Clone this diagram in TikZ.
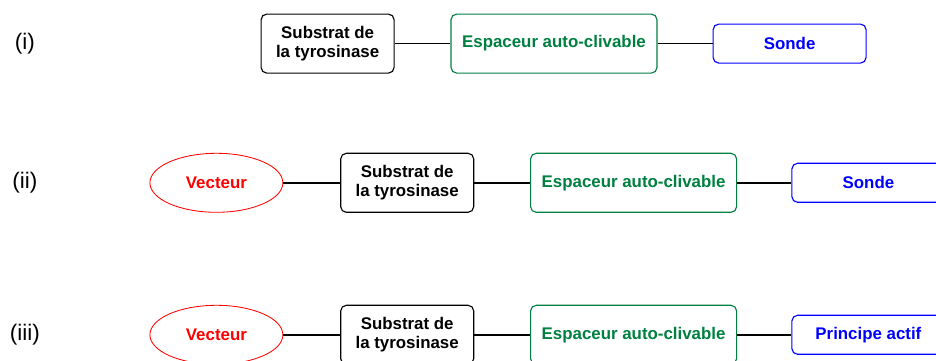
\documentclass[tikz,border=0pt]{standalone}
\usepackage{fontspec}
\setmainfont{Liberation Sans}
\usepackage{tikz}
\usetikzlibrary{shapes.geometric}

\definecolor{espgreen}{RGB}{0,128,64}
\definecolor{sondeblue}{RGB}{0,0,255}
\definecolor{vecred}{RGB}{255,0,0}

\tikzset{
  txt/.style={font=\fontsize{12}{13.5}\selectfont\bfseries, align=center, inner sep=0pt},
  substrat/.style={txt, draw=black, line width=0.8pt, rounded corners=4pt,
    minimum width=3.325cm, minimum height=1.475cm},
  espaceur/.style={txt, draw=espgreen, text=espgreen, line width=0.8pt, rounded corners=4pt,
    minimum width=5.15cm, minimum height=1.475cm},
  sonde/.style={txt, draw=sondeblue, text=sondeblue, line width=0.8pt, rounded corners=4pt,
    minimum width=3.825cm, minimum height=0.975cm},
  vecteur/.style={txt, ellipse, draw=vecred, text=vecred, line width=0.6pt,
    minimum width=3.325cm, minimum height=1.475cm},
  rowlabel/.style={font=\fontsize{16}{18}\selectfont},
  link/.style={line width=1.2pt}
}

\begin{document}
\begin{tikzpicture}[x=1cm,y=1cm]
  \useasboundingbox (0,0) rectangle (23.4,9);

  % Row labels
  \node[rowlabel] (lab1) at (0.62,7.91) {(i)};
  \node[rowlabel] (lab2) at (0.62,4.43) {(ii)};
  \node[rowlabel] (lab3) at (0.62,0.63) {(iii)};

  % Row (i)
  \node[substrat] (sub1) at (8.19,7.91) {Substrat de\\la tyrosinase};
  \node[espaceur] (esp1) at (13.85,7.91) {Espaceur auto-clivable};
  \node[sonde] (son1) at (19.74,7.91) {Sonde};
  \draw[link] (sub1.east) -- (esp1.west);
  \draw[link] (esp1.east) -- (son1.west);

  % Row (ii)
  \node[vecteur] (vec2) at (5.41,4.43) {Vecteur};
  \node[substrat] (sub2) at (10.18,4.43) {Substrat de\\la tyrosinase};
  \node[espaceur] (esp2) at (15.84,4.43) {Espaceur auto-clivable};
  \node[sonde] (son2) at (21.71,4.43) {Sonde};
  \draw[link] (vec2.east) -- (sub2.west);
  \draw[link] (sub2.east) -- (esp2.west);
  \draw[link] (esp2.east) -- (son2.west);

  % Row (iii)
  \node[vecteur] (vec3) at (5.41,0.63) {Vecteur};
  \node[substrat] (sub3) at (10.18,0.63) {Substrat de\\la tyrosinase};
  \node[espaceur] (esp3) at (15.84,0.63) {Espaceur auto-clivable};
  \node[sonde] (act3) at (21.71,0.63) {Principe actif};
  \draw[link] (vec3.east) -- (sub3.west);
  \draw[link] (sub3.east) -- (esp3.west);
  \draw[link] (esp3.east) -- (act3.west);
\end{tikzpicture}
\end{document}
